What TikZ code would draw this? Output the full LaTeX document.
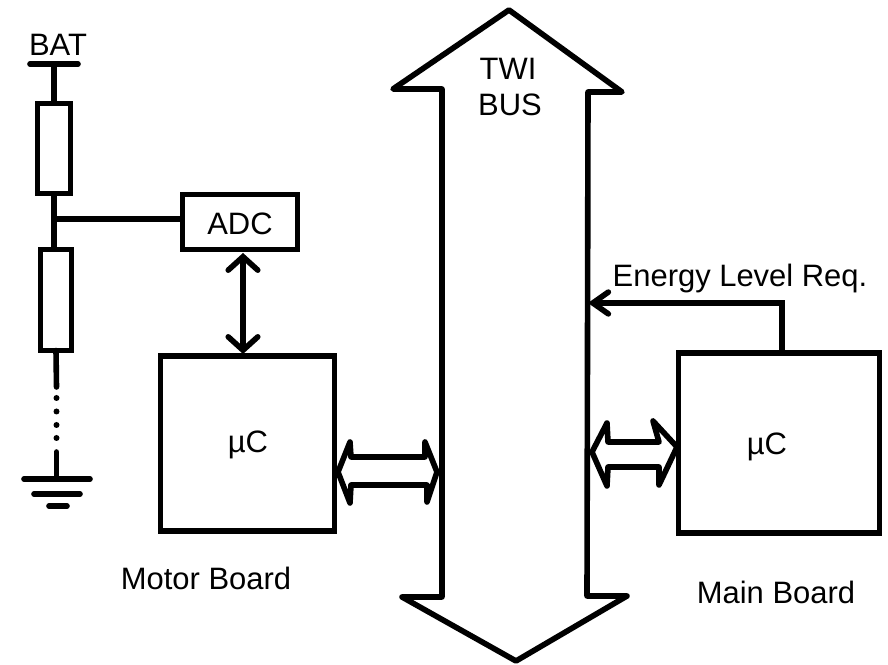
\documentclass[tikz,border=0pt]{standalone}
\usepackage{fontspec}
\setmainfont{Liberation Sans}
\usetikzlibrary{arrows.meta}
\tikzset{
  wire/.style={line width=0.056cm, line join=miter},
  rnd/.style={line width=0.056cm, line cap=round, line join=round},
  block/.style={draw, line width=0.056cm, outer sep=0pt, inner sep=0pt},
  label/.style={inner sep=0pt, font=\fontsize{8.8}{10}\selectfont},
  barb/.tip={Straight Barb[length=3.8pt, width=8.4pt, line cap=round]},
  narrowbarb/.tip={Straight Barb[length=4.4pt, width=6.2pt, line cap=round]}
}
\begin{document}
\begin{tikzpicture}[x=0.01cm, y=-0.01cm]
    \useasboundingbox (0, 0) rectangle (888, 665);
    \node [label] (bat) at (58, 45) {BAT};
    \coordinate (batl) at (30, 64);
    \coordinate (batr) at (78, 64);
    \coordinate (batm) at (54, 64);
    \draw [rnd] (batl) -- (batr);
    \node [block, minimum width=0.33cm, minimum height=0.90cm] (rup) at (54, 148.5) {};
    \node [block, minimum width=0.31cm, minimum height=1.01cm] (rlow) at (56, 300) {};
    \draw [wire] (batm) -- (rup.north);
    \draw [wire] (rup.south) -- (rup.south |- rlow.north);
    \node [block, minimum width=1.15cm, minimum height=0.55cm] (adc) at (240, 222) {};
    \node [label] (adctext) at (240, 224) {ADC};
    \coordinate (tap) at (54, 219);
    \draw [wire] (tap) -- (tap -| adc.west);
    \coordinate (wiredot) at (56.5, 387);
    \coordinate (wiregnd) at (56.5, 452);
    \coordinate (gnd) at (56.5, 479);
    \draw [rnd] (rlow.south) -- (wiredot);
    \draw [rnd] (wiregnd) -- (gnd);
    \foreach \y in {398, 411.5, 425, 438} {
      \fill (56.5, \y) circle[radius=3];
    }
    \draw [rnd] (24, 479) -- (90, 479);
    \draw [rnd] (34, 494) -- (80, 494);
    \draw [rnd] (49, 506) -- (67, 506);
    \node [block, minimum width=1.74cm, minimum height=1.75cm] (mculeft) at (247.5, 443.5) {};
    \node [label] (mculefttext) at (248, 445) {\textmu C};
    \node [label] (motor) at (206, 578) {Motor Board};
    \coordinate (adcport) at (243, 253);
    \coordinate (mcuport) at (243, 354);
    \draw [wire, barb-barb] (adcport) -- (mcuport);
    \draw [rnd] (509, 10) -- (622, 92) -- (588, 92) -- (587, 596) -- (627, 596)
      -- (516, 661) -- (402, 597) -- (442, 597) -- (442, 89) -- (393, 89) -- cycle;
    \node [label] (twi) at (508, 69) {TWI};
    \node [label] (bus) at (510, 105) {BUS};
    \draw [rnd] (338, 472) -- (350, 442) -- (351, 457) -- (425, 457) -- (425, 442) -- (437, 472)
      -- (427, 502) -- (427, 485) -- (351, 485) -- (350, 503) -- cycle;
    \node [block, minimum width=2.01cm, minimum height=1.80cm] (mcuright) at (779, 443) {};
    \node [label] (mcurighttext) at (767, 447) {\textmu C};
    \node [label] (main) at (776, 592) {Main Board};
    \draw [rnd] (592, 452) -- (607, 423) -- (608, 442) -- (659, 442) -- (653, 421) -- (677, 447)
      -- (659, 485) -- (659, 467) -- (608, 467) -- (607, 486) -- cycle;
    \coordinate (reqport) at (782, 353);
    \coordinate (reqbus) at (588, 303);
    \draw [wire, -narrowbarb] (reqport) |- (reqbus);
    \node [label] (req) at (740, 279) {Energy Level Req.};
  \end{tikzpicture}
\end{document}
